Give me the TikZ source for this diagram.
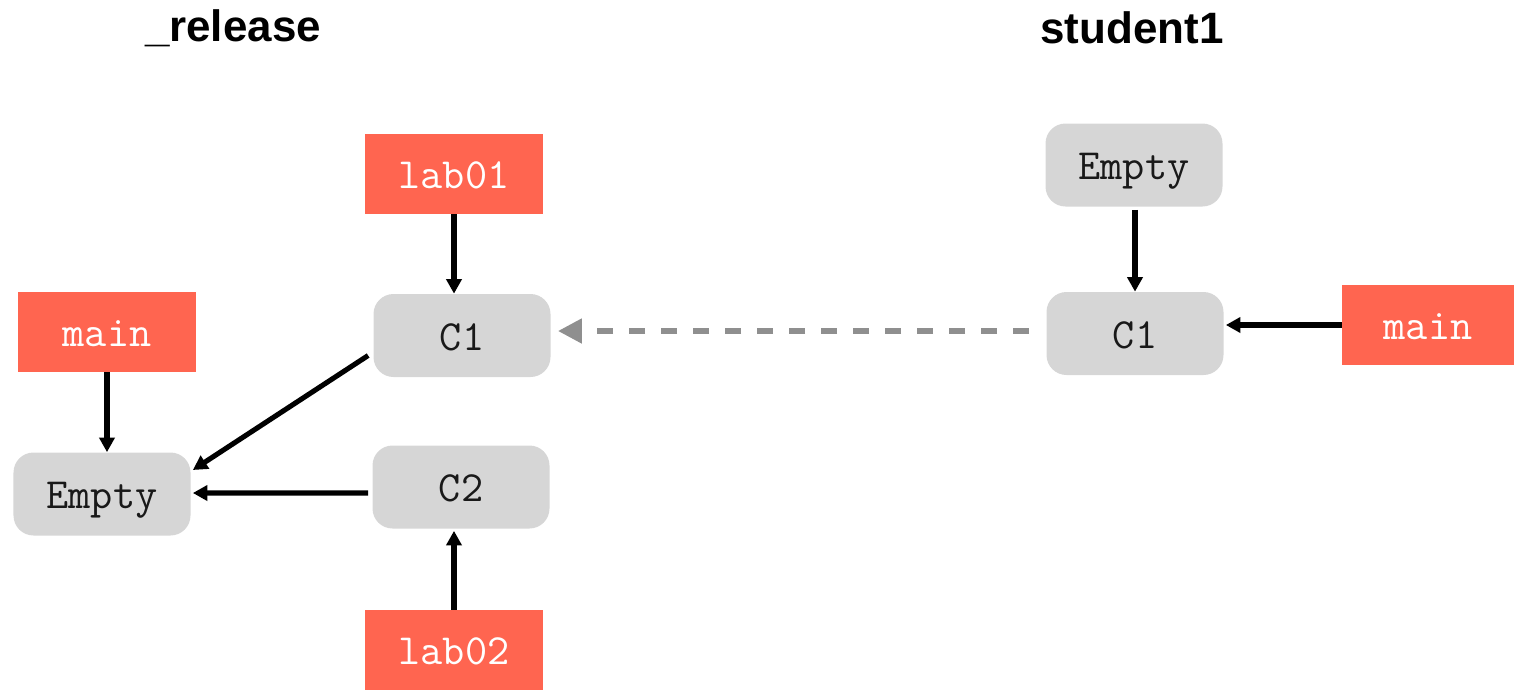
\documentclass[tikz,border=0pt]{standalone}
\usepackage{fontspec}
\setmainfont{Liberation Sans}
\usetikzlibrary{arrows.meta}
\definecolor{refbox}{HTML}{FF6550}
\definecolor{commitbox}{HTML}{D6D6D6}
\definecolor{dashgray}{HTML}{8F8F8F}
\tikzset{
  refnode/.style={fill=refbox, text=white, minimum width=3.56cm, minimum height=1.6cm, inner sep=0pt, text height=20pt, text depth=3pt, font=\ttfamily\fontsize{24.5}{24.5}\selectfont},
  commitnode/.style={fill=commitbox, text=black!90, rounded corners=0.4cm, minimum width=3.54cm, minimum height=1.66cm, inner sep=0pt, text height=20pt, text depth=3pt, font=\ttfamily\fontsize{24.5}{24.5}\selectfont},
  titlenode/.style={font=\bfseries\fontsize{25}{25}\selectfont},
  link/.style={line width=2.9pt, -{Triangle[length=0.29cm,width=0.3cm]}},
  pushlink/.style={line width=3.4pt, dashgray, dash pattern=on 0.33cm off 0.31cm, -{Triangle[length=0.48cm,width=0.47cm]}}
}
\begin{document}
\begin{tikzpicture}
\useasboundingbox (0,0) rectangle (30.28,-13.82);
\node[titlenode] (t1) at (4.66,-0.56) {\_release};
\node[titlenode] (t2) at (22.64,-0.56) {student1};
\node[refnode] (lab01) at (9.08,-3.48) {lab01};
\node[commitnode] (c1l) at (9.24,-6.71) {C1};
\node[refnode] (mainl) at (2.14,-6.64) {main};
\node[commitnode] (emptyl) at (2.04,-9.88) {Empty};
\node[commitnode] (c2l) at (9.22,-9.74) {C2};
\node[refnode] (lab02) at (9.08,-13.0) {lab02};
\node[commitnode] (emptyr) at (22.68,-3.30) {Empty};
\node[commitnode] (c1r) at (22.70,-6.67) {C1};
\node[refnode, minimum width=3.44cm] (mainr) at (28.56,-6.50) {main};
\draw[link] (lab01.south) -- (lab01.south |- c1l.north);
\draw[link] (mainl.south) -- (mainl.south |- emptyl.north);
\draw[link] ([shift={(-0.1,-0.4)}]c1l.west) -- ([shift={(0.04,0.48)}]emptyl.east);
\draw[link] ([shift={(-0.08,-0.12)}]c2l.west) -- ([shift={(0.04,0)}]emptyl.east |- 0,-9.86);
\draw[link] (lab02.north) -- ([yshift=-0.04cm]lab02.north |- c2l.south);
\draw[link] ([yshift=-0.06cm]emptyr.south -| c1r.north) -- (c1r.north);
\draw[link] (mainr.west) -- ([xshift=0.04cm]c1r.east |- mainr.west);
\draw[pushlink, shorten <=0.34cm, shorten >=0.14cm] ([yshift=0.05cm]c1r.west) -- ([yshift=0.05cm]c1l.east |- c1r.west);
\end{tikzpicture}
\end{document}
